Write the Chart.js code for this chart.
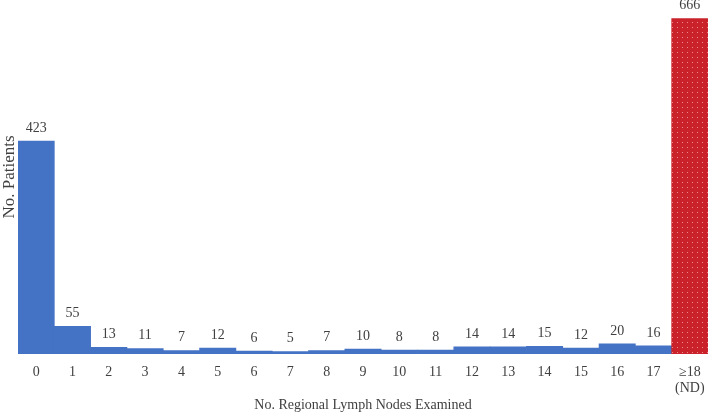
<!DOCTYPE html>
<html>
<head>
<meta charset="utf-8">
<script src="https://cdn.jsdelivr.net/npm/chart.js@4.4.0/dist/chart.umd.min.js"></script>
<style>
  html, body { margin: 0; padding: 0; background: #fff; }
  #wrap { width: 709px; height: 412px; }
</style>
</head>
<body>
<div id="wrap"><canvas id="chart" width="709" height="412"></canvas></div>
<script>
const categories = ["0","1","2","3","4","5","6","7","8","9","10","11","12","13","14","15","16","17",["\u226518","(ND)"]];
const patients = [423, 55, 13, 11, 7, 12, 6, 5, 7, 10, 8, 8, 14, 14, 15, 12, 20, 16, 666];

// patron rojo con puntos para la ultima barra
function dottedPattern() {
  const c = document.createElement("canvas");
  c.width = 5; c.height = 5;
  const g = c.getContext("2d");
  g.fillStyle = "#C9222B";
  g.fillRect(0, 0, 5, 5);
  g.fillStyle = "#F08A8E";
  g.fillRect(2, 2, 1, 1);
  return g.createPattern(c, "repeat");
}

const colores = patients.map((v, i) => i === patients.length - 1 ? dottedPattern() : "#4472C4");
const fuente = "'Liberation Serif', serif";

const etiquetas = {
  id: "etiquetas",
  afterDatasetsDraw(chart) {
    const ctx = chart.ctx;
    const meta = chart.getDatasetMeta(0);
    ctx.save();
    ctx.font = "14px " + fuente;
    ctx.fillStyle = "#404040";
    ctx.textAlign = "center";
    ctx.textBaseline = "bottom";
    meta.data.forEach((bar, i) => {
      ctx.fillText(patients[i], bar.x, bar.y - 6);
    });
    ctx.restore();
  }
};

new Chart(document.getElementById("chart").getContext("2d"), {
  type: "bar",
  data: {
    labels: categories,
    datasets: [{
      data: patients,
      backgroundColor: colores,
      borderWidth: 0,
      categoryPercentage: 1,
      barPercentage: 1
    }]
  },
  options: {
    responsive: false,
    animation: false,
    layout: { padding: { top: 0, right: 1, left: 0, bottom: 0 } },
    plugins: { legend: { display: false }, tooltip: { enabled: false } },
    scales: {
      x: {
        afterFit(scale) {
          scale.height = 58;
          scale.paddingLeft = 0;
          scale.paddingRight = 0;
        },
        grid: { display: false, drawTicks: false },
        border: { display: false },
        ticks: { color: "#404040", font: { family: fuente, size: 14, lineHeight: 1.1 }, padding: 11, maxRotation: 0 },
        title: { display: true, text: "No. Regional Lymph Nodes Examined", color: "#404040",
                 font: { family: fuente, size: 14, lineHeight: 1.1 }, padding: { top: 4, bottom: -1 } }
      },
      y: {
        min: 0,
        max: 703,
        grid: { display: false, drawTicks: false },
        border: { display: false },
        ticks: { display: false },
        title: { display: true, text: "No. Patients", color: "#404040",
                 font: { family: fuente, size: 17, lineHeight: 1.0 }, padding: { top: 1, bottom: 0 } }
      }
    }
  },
  plugins: [etiquetas]
});
</script>
</body>
</html>
